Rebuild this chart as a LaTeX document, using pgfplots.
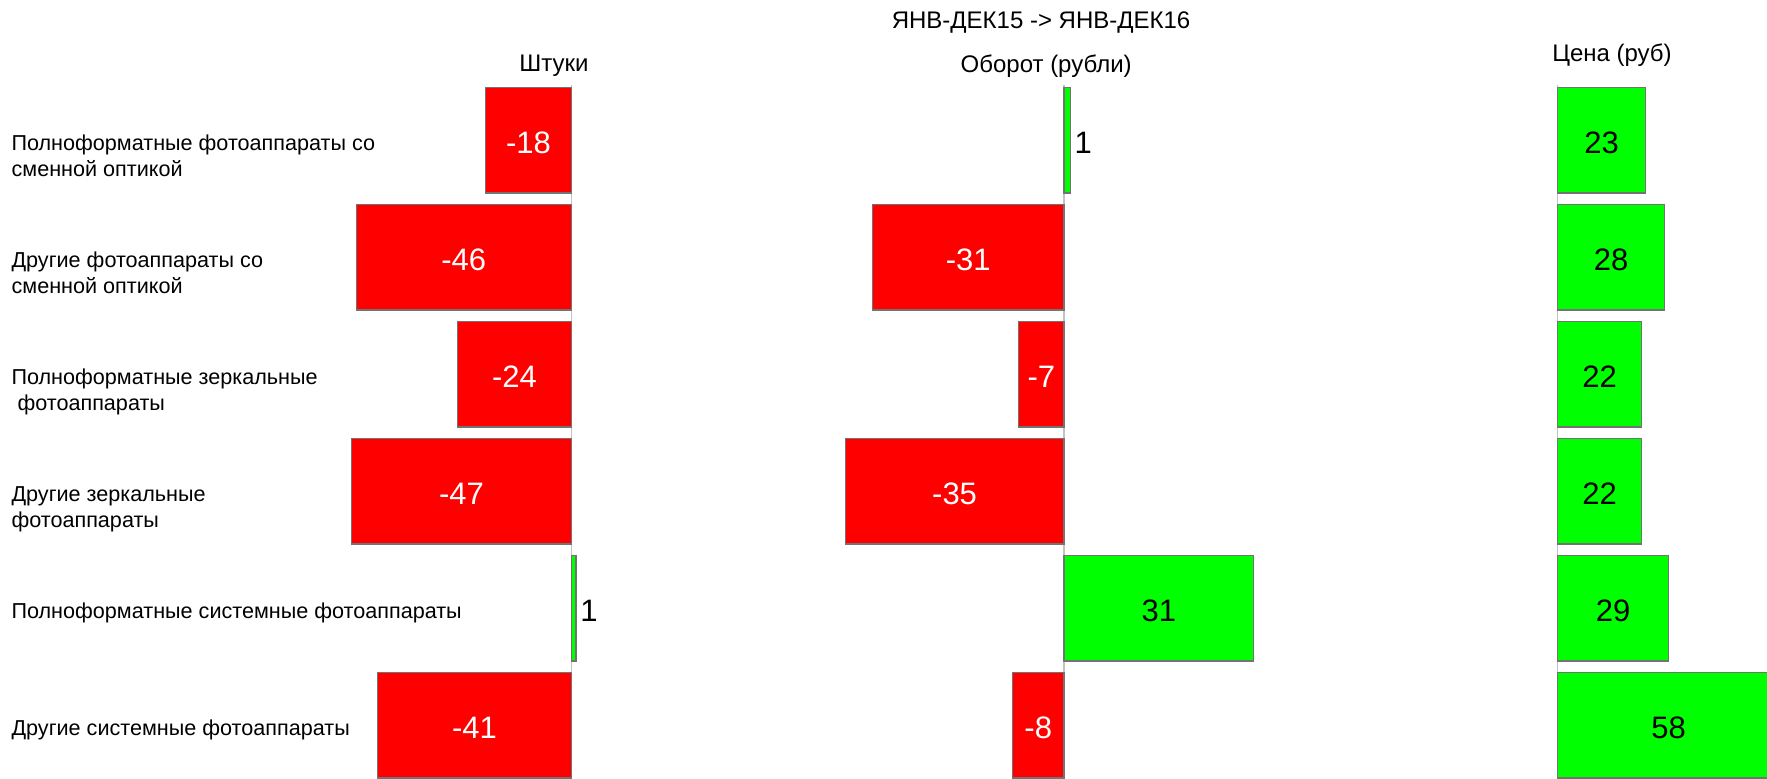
\documentclass[border=0pt]{standalone}
\usepackage{pgfplots}
\pgfplotsset{compat=1.18}
\usepackage{pgfplotstable}
\usepackage{fontspec}
\setmainfont{Liberation Sans}
\definecolor{barred}{RGB}{255,0,0}
\definecolor{bargreen}{RGB}{0,255,0}
\definecolor{barborder}{RGB}{115,115,115}
\definecolor{zeroline}{RGB}{195,195,195}
\newcommand{\vlfont}{\fontsize{15.5}{18}\selectfont}
\newcommand{\txfont}{\fontsize{12}{13}\selectfont}
\newcommand{\catfont}{\fontsize{10.8}{13}\selectfont}

\pgfplotstableread{
i v
0 -18.3
1 -46
2 -24.3
3 -47
4 1
5 -41.4
}\tabA
\pgfplotstableread{
i v
0 1
1 -30.9
2 -7.3
3 -35.3
4 30.6
5 -8.3
}\tabB
\pgfplotstableread{
i v
0 23
1 28
2 22
3 22
4 29
5 58
}\tabC

\pgfplotsset{
  panel/.style={
    scale only axis, height=346.7pt,
    ymin=-0.477, ymax=5.45, y dir=reverse,
    axis x line=none, axis y line=center,
    axis line style={-, draw=zeroline, line width=0.6pt},
    xtick=\empty, major tick length=0pt,
    clip mode=individual,
    /pgf/number format/assume math mode=true,
    /pgf/number format/fixed, /pgf/number format/precision=0,
    title style={font=\txfont, anchor=center},
  },
  barstyle/.style={xbar, bar width=0.9, bar shift=0pt, draw=barborder, line width=0.6pt, unbounded coords=discard},
  lblstyle/.style={draw=none, nodes near coords, point meta=\thisrow{v}, unbounded coords=discard},
}
\newcommand{\panelplots}[1]{%
  \addplot[barstyle, fill=barred, x filter/.expression={x<0 ? x : nan}] table[x=v,y=i] {#1};
  \addplot[barstyle, fill=bargreen, x filter/.expression={x>0 ? x : nan}] table[x=v,y=i] {#1};
  \addplot[lblstyle, every node near coord/.append style={anchor=center, text=white, font=\vlfont, yshift=-1pt},
    x filter/.expression={x<-1.5 ? x : nan}] table[x expr=\thisrow{v}/2, y=i] {#1};
  \addplot[lblstyle, every node near coord/.append style={anchor=center, text=black, font=\vlfont, yshift=-1pt},
    x filter/.expression={x>1.5 ? x : nan}] table[x expr=\thisrow{v}/2, y=i] {#1};
  \addplot[lblstyle, every node near coord/.append style={anchor=west, inner sep=0pt, xshift=2pt, text=black, font=\vlfont, yshift=-1pt},
    x filter/.expression={(x>0 && x<3) ? x : nan}] table[x=v, y=i] {#1};
}

\begin{document}
\begin{tikzpicture}
\useasboundingbox (0,0) rectangle (883.5pt,389pt);

% Panel 1: Штуки
\begin{axis}[panel, at={(168.7pt,0pt)}, anchor=south west, width=140.4pt,
  xmin=-50, xmax=10,
  ytick={0,1,2,3,4,5},
  yticklabels={
    {\begin{tabular}[t]{@{}l@{}}Полноформатные фотоаппараты со\\сменной оптикой\end{tabular}},
    {\begin{tabular}[t]{@{}l@{}}Другие фотоаппараты со\\сменной оптикой\end{tabular}},
    {\begin{tabular}[t]{@{}l@{}}Полноформатные зеркальные\\\ фотоаппараты\end{tabular}},
    {\begin{tabular}[t]{@{}l@{}}Другие зеркальные\\фотоаппараты\end{tabular}},
    {\begin{tabular}[t]{@{}l@{}}Полноформатные системные фотоаппараты\end{tabular}},
    {\begin{tabular}[t]{@{}l@{}}Другие системные фотоаппараты\end{tabular}}},
  yticklabel style={anchor=base west, xshift=-280.1pt, yshift=-5pt, font=\catfont, inner sep=0pt},
  title={Штуки}, title style={at={(0.771,1.010)}},
]
\panelplots{\tabA}
\end{axis}

% Panel 2: Оборот
\begin{axis}[panel, at={(408pt,0pt)}, anchor=south west, width=232.5pt,
  xmin=-40, xmax=35, ytick=\empty,
  title={Оборот (рубли)}, title style={at={(0.495,1.0087)}},
]
\panelplots{\tabB}
\node[font=\txfont, anchor=center] at (axis description cs:0.484,1.0896) {ЯНВ-ДЕК15 -> ЯНВ-ДЕК16};
\end{axis}

% Panel 3: Цена
\begin{axis}[panel, at={(769.2pt,0pt)}, anchor=south west, width=114.3pt,
  xmin=-5, xmax=54.7, ytick=\empty,
  title={Цена (руб)}, title style={at={(0.322,1.0246)}},
]
\panelplots{\tabC}
\end{axis}
\end{tikzpicture}
\end{document}
